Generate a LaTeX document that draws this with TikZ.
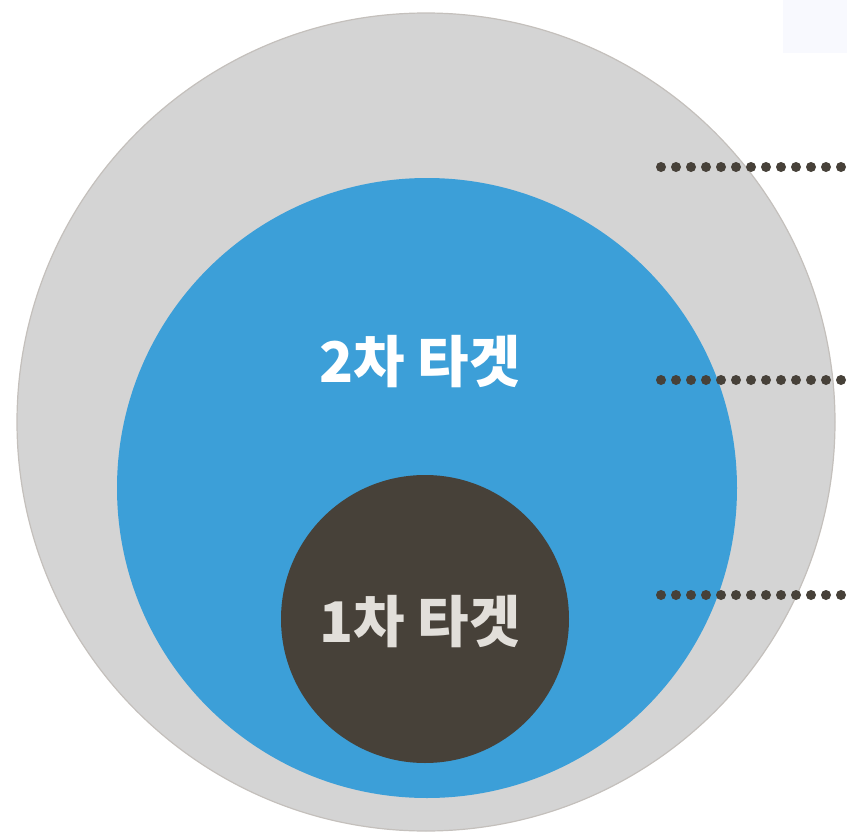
\documentclass[tikz,border=0pt]{standalone}
\usepackage{fontspec}
\usepackage{xcolor}
\usepackage{tikz}
\usetikzlibrary{positioning}
\newfontfamily\krfont{Noto Sans CJK KR}

\definecolor{ringgray}{HTML}{D4D4D4}
\definecolor{rimgray}{HTML}{C4C0BC}
\definecolor{targetblue}{HTML}{3C9FD8}
\definecolor{coredark}{HTML}{474139}
\definecolor{corelabel}{HTML}{E2DFDA}
\definecolor{cornerblue}{HTML}{F8F9FE}

\tikzset{
    ring/.style={circle,inner sep=0pt,draw=none},
    ringlabel/.style={font=\krfont\bfseries\fontsize{56}{62}\selectfont},
    leader/.style={line width=10pt,line cap=round,dash pattern=on 0pt off 15pt,color=coredark}
}

\begin{document}
\begin{tikzpicture}[x=1pt,y=-1pt]
    \useasboundingbox (0,0) rectangle (847,835);
    \fill[cornerblue] (783,0) rectangle (847,53);

    % Rings
    \node[ring,fill=ringgray,draw=rimgray,line width=1.2pt,minimum size=818pt] (outer) at (426,422) {};
    \node[ring,fill=targetblue,minimum size=620pt] (second) at (427,488) {};
    \node[ring,fill=coredark,minimum size=288pt] (first) at (425,619) {};

    % Labels
    \node[ringlabel,text=white] (secondlabel) at (420,362) {2차 타겟};
    \node[ringlabel,text=corelabel] (firstlabel) at (420,622) {1차 타겟};

    % Leaders
    \coordinate (outerdot) at (661,167);
    \coordinate (outerend) at (850,167);
    \coordinate (seconddot) at (661,380);
    \coordinate (secondend) at (850,380);
    \coordinate (firstdot) at (661,595);
    \coordinate (firstend) at (850,595);
    \draw[leader] (outerdot) -- (outerend);
    \draw[leader] (seconddot) -- (secondend);
    \draw[leader] (firstdot) -- (firstend);
\end{tikzpicture}
\end{document}
